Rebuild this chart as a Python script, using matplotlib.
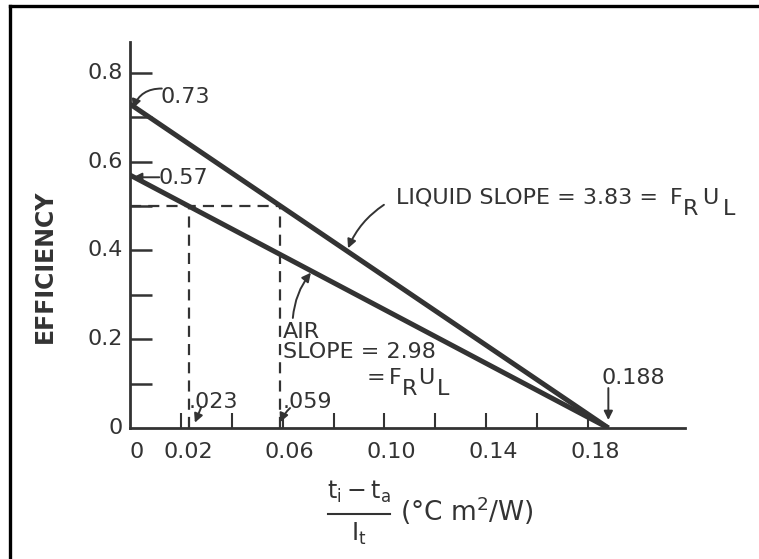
import matplotlib.pyplot as plt
from matplotlib.lines import Line2D

# efficiency lines for the liquid and air collectors
x_ends = [0.0, 0.188]
liquid_eff = [0.73, 0.0]
air_eff = [0.57, 0.0]
liquid_slope = 3.83
air_slope = 2.98

# 50 % efficiency read-offs
eff_half = 0.5
x_air_half = 0.023
x_liquid_half = 0.059

xtick_pos = [0.02, 0.04, 0.06, 0.08, 0.10, 0.12, 0.14, 0.16, 0.18]
xlabel_pos = [0.0, 0.02, 0.06, 0.10, 0.14, 0.18]
xlabel_txt = ['0', '0.02', '0.06', '0.10', '0.14', '0.18']
ytick_pos = [0.1, 0.2, 0.3, 0.4, 0.5, 0.6, 0.7, 0.8]
ylabel_pos = [0.0, 0.2, 0.4, 0.6, 0.8]
ylabel_txt = ['0', '0.2', '0.4', '0.6', '0.8']

ink = '#333333'
W, H = 759, 559

plt.rcParams['font.family'] = 'DejaVu Sans'
plt.rcParams['mathtext.fontset'] = 'dejavusans'

fig = plt.figure(figsize=(W / 100, H / 100), dpi=100)
fig.patch.set_facecolor('white')

# frame at top and left
fig.add_artist(Line2D([10 / W, 1], [1 - 6 / H, 1 - 6 / H], color='black', lw=2.4))
fig.add_artist(Line2D([10 / W, 10 / W], [0, 1 - 6 / H], color='black', lw=2.4))

ax = fig.add_axes([130 / W, 1 - 428 / H, 555 / W, 386 / H])
ax.set_xlim(0, 555 / 2544.4)
ax.set_ylim(0, 386 / 443.75)
for s in ['top', 'right']:
    ax.spines[s].set_visible(False)
for s in ['left', 'bottom']:
    ax.spines[s].set_linewidth(2.0)
    ax.spines[s].set_color(ink)

ax.set_xticks(xtick_pos, [''] * len(xtick_pos))
ax.set_yticks(ytick_pos, [''] * len(ytick_pos))
ax.tick_params(axis='x', direction='in', length=11, width=1.5, color=ink)
ax.tick_params(axis='y', direction='in', length=16, width=1.8, color=ink)

for xv, t in zip(xlabel_pos, xlabel_txt):
    ax.annotate(t, (xv, 0), xytext=(5, -17), textcoords='offset points',
                ha='center', va='center', fontsize=16, color=ink)
for yv, t in zip(ylabel_pos, ylabel_txt):
    ax.annotate(t, (0, yv), xytext=(-5, 0), textcoords='offset points',
                ha='right', va='center', fontsize=16, color=ink)

ax.plot(x_ends, liquid_eff, color=ink, lw=3.6, solid_capstyle='butt')
ax.plot(x_ends, air_eff, color=ink, lw=3.6, solid_capstyle='butt')

dash = dict(color=ink, lw=1.6, dashes=(5, 3.2))
ax.plot([0, x_liquid_half], [eff_half, eff_half], **dash)
ax.plot([x_air_half, x_air_half], [0, eff_half], **dash)
ax.plot([x_liquid_half, x_liquid_half], [0, eff_half], **dash)


def arrow(start, end, rad=0.0):
    ax.annotate('', xy=end, xytext=start,
                arrowprops=dict(arrowstyle='-|>', color=ink, lw=1.4,
                                mutation_scale=13, shrinkA=0, shrinkB=0,
                                connectionstyle=f'arc3,rad={rad}'))


def fr_ul(x_px, y_px, steps, drop=11):
    # F_R U_L lettered with full-size dropped subscripts, positions in pixels
    for ch, dx, low in zip('FRUL', steps, [0, 1, 0, 1]):
        fig.text((x_px + dx) / W, 1 - (y_px + low * drop) / H, ch,
                 ha='left', va='center', fontsize=16, color=ink)


tk = dict(fontsize=16, color=ink, va='center')

ax.text(0.0118, 0.746, f'{liquid_eff[0]:.2f}', ha='left', **tk)
arrow((0.0125, 0.765), (0.0012, 0.72), rad=0.35)

ax.text(0.0112, 0.563, f'{air_eff[0]:.2f}', ha='left', **tk)
arrow((0.0115, 0.565), (0.0012, 0.565))

ax.text(0.1045, 0.52, f'LIQUID SLOPE = {liquid_slope} =', ha='left', **tk)
fr_ul(670, 198, [0, 13, 32, 53])
arrow((0.0998, 0.503), (0.0857, 0.405), rad=0.15)

ax.text(0.0601, 0.216, 'AIR', ha='left', **tk)
ax.text(0.0601, 0.171, f'SLOPE = {air_slope}', ha='left', **tk)
ax.text(0.0930, 0.113, '=', ha='left', **tk)
fr_ul(389, 378, [0, 13, 29, 48])
arrow((0.064, 0.248), (0.0711, 0.350), rad=-0.15)

ax.text(0.1855, 0.113, f'{x_ends[1]}', ha='left', **tk)
arrow((0.188, 0.09), (0.188, 0.018))

ax.text(0.0232, 0.0586, f'.{int(round(x_air_half * 1000)):03d}', ha='left', **tk)
arrow((0.028, 0.047), (0.0255, 0.012))

ax.text(0.0600, 0.0586, f'.{int(round(x_liquid_half * 1000)):03d}', ha='left', **tk)
arrow((0.0629, 0.045), (0.059, 0.013), rad=0.1)

fig.text(45 / W, 1 - 266 / H, 'EFFICIENCY', rotation=90, ha='center', va='center',
         fontsize=17, fontweight='bold', color=ink)

# x-axis label written as a stacked fraction
fig.text(359 / W, 1 - 492 / H, r'$\mathrm{t_i - t_a}$', ha='center', va='center',
         fontsize=17, color=ink)
fig.add_artist(Line2D([328 / W, 390 / W], [1 - 514 / H, 1 - 514 / H], color=ink, lw=1.5))
fig.text(359 / W, 1 - 534 / H, r'$\mathrm{I_t}$', ha='center', va='center',
         fontsize=17, color=ink)
fig.text(400 / W, 1 - 511 / H, r'($\degree$C m$^2$/W)', ha='left', va='center',
         fontsize=19, color=ink)

fig.savefig('out.png', dpi=100, facecolor='white')
